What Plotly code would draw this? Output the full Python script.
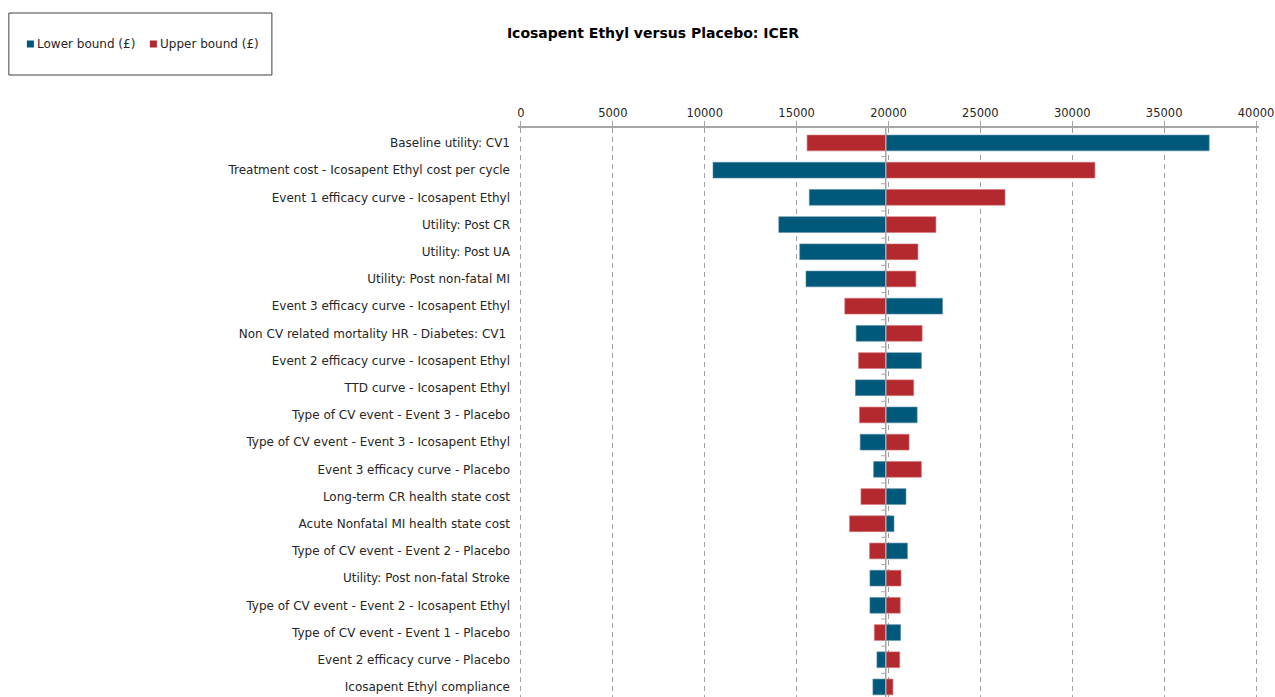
import plotly.graph_objects as go

title = "Icosapent Ethyl versus Placebo: ICER"
base_icer = 19850

parameters = [
    "Baseline utility: CV1",
    "Treatment cost - Icosapent Ethyl cost per cycle",
    "Event 1 efficacy curve - Icosapent Ethyl",
    "Utility: Post CR",
    "Utility: Post UA",
    "Utility: Post non-fatal MI",
    "Event 3 efficacy curve - Icosapent Ethyl",
    "Non CV related mortality HR - Diabetes: CV1 ",
    "Event 2 efficacy curve - Icosapent Ethyl",
    "TTD curve - Icosapent Ethyl",
    "Type of CV event - Event 3 - Placebo",
    "Type of CV event - Event 3 - Icosapent Ethyl",
    "Event 3 efficacy curve - Placebo",
    "Long-term CR health state cost",
    "Acute Nonfatal MI health state cost",
    "Type of CV event - Event 2 - Placebo",
    "Utility: Post non-fatal Stroke",
    "Type of CV event - Event 2 - Icosapent Ethyl",
    "Type of CV event - Event 1 - Placebo",
    "Event 2 efficacy curve - Placebo",
    "Icosapent Ethyl compliance",
]

lower_bound = [37450, 10450, 15690, 14030, 15170, 15510, 22940, 18240, 21790, 18200,
               21560, 18460, 19190, 20950, 20300, 21030, 18990, 18990, 20660, 19370, 19150]
upper_bound = [15570, 31230, 26340, 22580, 21600, 21490, 17620, 21830, 18370, 21370,
               18420, 21120, 21790, 18500, 17880, 18970, 20680, 20640, 19230, 20610, 20240]

x_ticks = [0, 5000, 10000, 15000, 20000, 25000, 30000, 35000, 40000]

BLUE = "#00587A"
RED = "#B3292F"
FONT = "DejaVu Sans"

rows = list(range(len(parameters)))

fig = go.Figure()
fig.add_trace(go.Bar(
    y=rows, x=[v - base_icer for v in lower_bound], base=base_icer,
    orientation="h", name="Lower bound (£)", width=0.58,
    marker=dict(color=BLUE, line=dict(color="#5E8FA6", width=0.6)),
    showlegend=False,
))
fig.add_trace(go.Bar(
    y=rows, x=[v - base_icer for v in upper_bound], base=base_icer,
    orientation="h", name="Upper bound (£)", width=0.58,
    marker=dict(color=RED, line=dict(color="#D77479", width=0.6)),
    showlegend=False,
))

# central category axis line at base ICER
fig.add_shape(type="line", xref="x", yref="paper", x0=base_icer, x1=base_icer,
              y0=0, y1=1, line=dict(color="#A6A6A6", width=1.5), layer="above")
for i in range(len(parameters) - 1):
    fig.add_shape(type="line", xref="x", yref="y", x0=base_icer - 250, x1=base_icer,
                  y0=i + 0.5, y1=i + 0.5, line=dict(color="#A6A6A6", width=1), layer="above")

# plot area geometry (pixels)
PAD = 160  # data units of padding either side so edge gridlines are drawn
L = 521 - 735 * PAD / 40000
PW = 735 * (40000 + 2 * PAD) / 40000
T = 128
PH = 697 - T

def px(p):
    return (p - L) / PW
def py(p):
    return (697 - p) / PH

# legend box
fig.add_shape(type="rect", xref="paper", yref="paper", x0=px(9), x1=px(272),
              y0=py(75), y1=py(13), line=dict(color="#404040", width=1), fillcolor="white")
for (sx, col, label) in [(27, BLUE, "Lower bound (£)"), (150, RED, "Upper bound (£)")]:
    fig.add_shape(type="rect", xref="paper", yref="paper", x0=px(sx), x1=px(sx + 7),
                  y0=py(47.5), y1=py(40.5), line=dict(width=0), fillcolor=col)
    fig.add_annotation(xref="paper", yref="paper", x=px(sx + 8), y=py(44), text=label,
                       showarrow=False, xanchor="left", yanchor="middle",
                       font=dict(family=FONT, size=12, color="#262626"))

fig.update_layout(
    width=1275, height=697,
    margin=dict(l=L, r=1275 - L - PW, t=T, b=0),
    paper_bgcolor="white", plot_bgcolor="white",
    barmode="overlay",
    title=dict(text="<b>" + title + "</b>", x=653 / 1275, xref="container", xanchor="center",
               y=(697 - 33) / 697, yanchor="middle", yref="container",
               font=dict(family=FONT, size=14, color="#000000")),
    font=dict(family=FONT, size=12, color="#262626"),
)

fig.update_xaxes(
    side="top", range=[-PAD, 40000 + PAD], tickvals=x_ticks, ticktext=[str(t) for t in x_ticks],
    showline=True, linecolor="#A6A6A6", linewidth=1.5,
    ticks="outside", ticklen=5, tickcolor="#A6A6A6",
    showgrid=True, gridcolor="#A0A0A0", griddash="5px,4px", gridwidth=1,
    zeroline=False, tickfont=dict(family=FONT, size=11.5, color="#262626"),
)
fig.update_yaxes(
    range=[20.37, -0.551], tickvals=rows, ticktext=parameters,
    showgrid=False, zeroline=False, showline=False, ticks="",
    ticklabelstandoff=7,
    tickfont=dict(family=FONT, size=12, color="#262626"),
)

fig.write_html("out.html")
